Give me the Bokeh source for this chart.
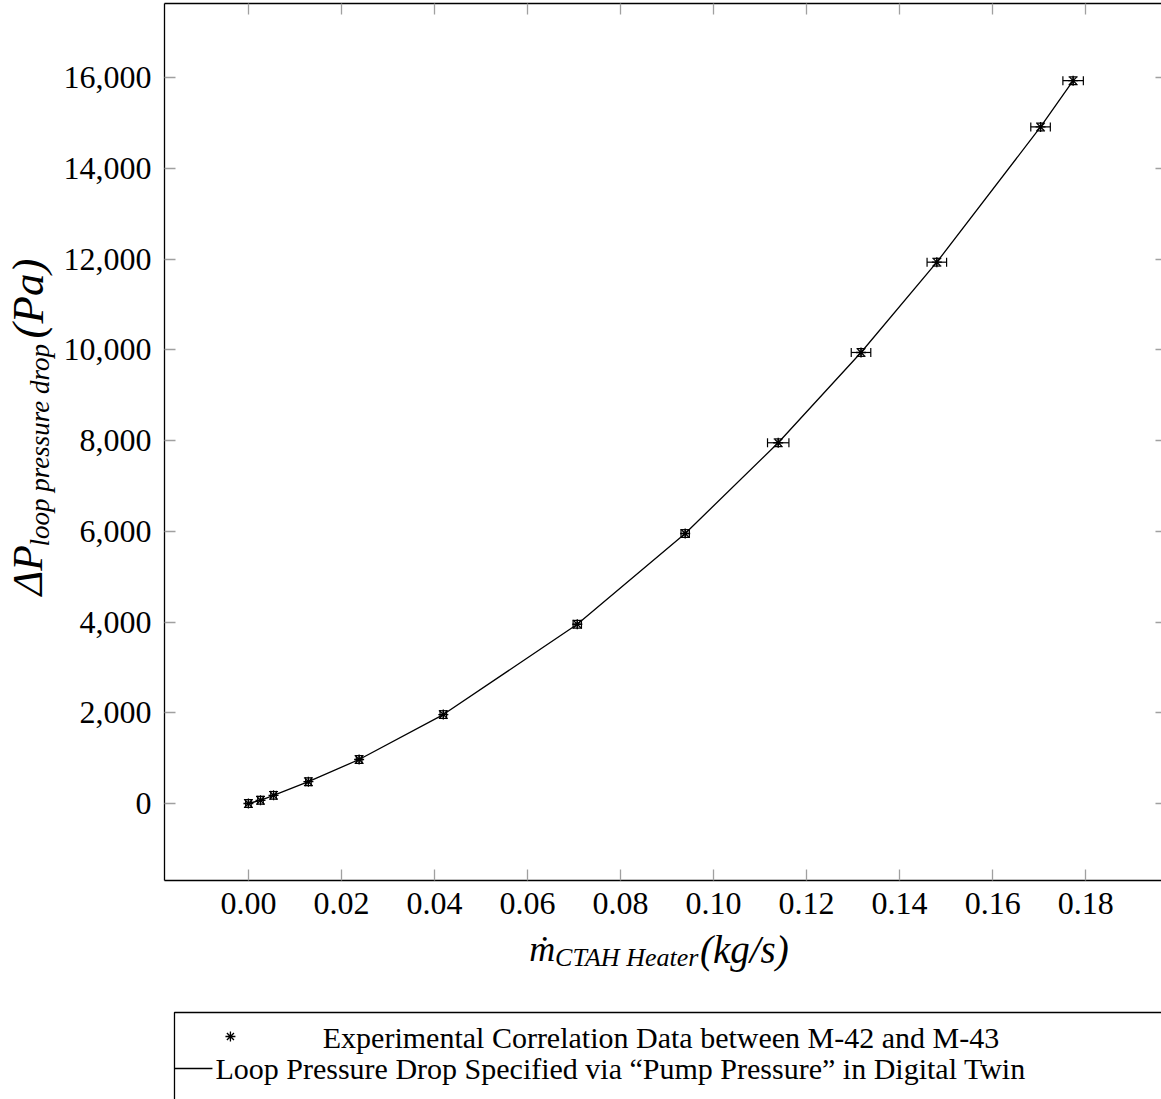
from bokeh.plotting import figure
from bokeh.models import (Range1d, FixedTicker, NumeralTickFormatter, LinearAxis,
                          Whisker, TeeHead, ColumnDataSource, CustomJSTickFormatter)
from bokeh.layouts import gridplot
from bokeh.core.properties import value
from bokeh.embed import file_html
from bokeh.resources import INLINE
import math

# ---------------- data ----------------
mdot = [0.0, 0.0026, 0.0054, 0.0129, 0.0238, 0.0419, 0.0707, 0.0939, 0.1139, 0.1317, 0.1480, 0.1703, 0.1773]
dp = [0, 70, 180, 480, 970, 1960, 3950, 5950, 7950, 9940, 11930, 14910, 15930]
mdot_err = [0.0006, 0.0006, 0.0006, 0.0006, 0.0006, 0.0007, 0.0009, 0.0009, 0.0023, 0.0021, 0.0021, 0.0021, 0.0022]
dp_err = [85, 85, 85, 85, 85, 85, 85, 85, 85, 85, 85, 85, 85]

twin_mdot = mdot
twin_dp = dp

x_ticks = [0.0, 0.02, 0.04, 0.06, 0.08, 0.10, 0.12, 0.14, 0.16, 0.18]
y_ticks = [0, 2000, 4000, 6000, 8000, 10000, 12000, 14000, 16000]

x_label_parts = ["\u1e41", "CTAH Heater", "(kg/s)"]
y_label_parts = ["\u0394P", "loop pressure drop", "(Pa)"]
legend_labels = ["Experimental Correlation Data between M-42 and M-43",
                 "Loop Pressure Drop Specified via \u201cPump Pressure\u201d in Digital Twin"]

FONT = "Liberation Serif"

# layout geometry (page pixels)
YLAB_W = 60
MAIN_W = 1161 - YLAB_W
MAIN_H = 928
BOT_BORDER = 48
BOTTOM_H = 1099 - MAIN_H

# ---------------- main figure ----------------
p = figure(width=MAIN_W, height=MAIN_H, output_backend="svg", toolbar_location=None,
           x_range=Range1d(-0.01804, 0.1963), y_range=Range1d(-1697, 17631),
           min_border_left=163 - YLAB_W, min_border_right=0, min_border_top=3,
           min_border_bottom=BOT_BORDER)
p.grid.visible = False
p.outline_line_color = None
p.background_fill_color = "white"
p.border_fill_color = "white"

def style_axis(ax, ticks, standoff, tick_len=11, line=True):
    ax.ticker = FixedTicker(ticks=ticks)
    ax.axis_line_color = "black" if line else None
    ax.axis_line_width = 1.3
    ax.major_tick_in = tick_len
    ax.major_tick_out = 0
    ax.major_tick_line_color = "#a0a0a0"
    ax.major_tick_line_width = 1.3
    ax.minor_tick_line_color = None
    ax.major_label_standoff = standoff
    ax.major_label_text_font = FONT
    ax.major_label_text_color = "black"
    ax.major_label_text_font_size = "32px"

style_axis(p.xaxis[0], x_ticks, 12)
p.xaxis[0].formatter = NumeralTickFormatter(format="0.00")
style_axis(p.yaxis[0], y_ticks, 13)
p.yaxis[0].formatter = NumeralTickFormatter(format="0,0")

top_ax = LinearAxis()
style_axis(top_ax, x_ticks, 0)
top_ax.formatter = CustomJSTickFormatter(code="return ''")
p.add_layout(top_ax, "above")
# the right border of the frame lies just beyond the window edge: only the tick stubs show
right_ax = LinearAxis()
style_axis(right_ax, y_ticks, 0, tick_len=6, line=False)
right_ax.formatter = CustomJSTickFormatter(code="return ''")
p.add_layout(right_ax, "right")

src = ColumnDataSource(dict(
    x=mdot, y=dp,
    xl=[a - b for a, b in zip(mdot, mdot_err)], xu=[a + b for a, b in zip(mdot, mdot_err)],
    yl=[a - b for a, b in zip(dp, dp_err)], yu=[a + b for a, b in zip(dp, dp_err)],
))

p.line(twin_mdot, twin_dp, line_color="black", line_width=1.3)

def head():
    return TeeHead(size=9, line_color="black", line_width=1.2)

wy = Whisker(source=src, base="x", lower="yl", upper="yu", dimension="height",
             line_color="black", line_width=1.2, upper_head=head(), lower_head=head(), level="glyph")
wx = Whisker(source=src, base="y", lower="xl", upper="xu", dimension="width",
             line_color="black", line_width=1.2, upper_head=head(), lower_head=head(), level="glyph")
p.add_layout(wy)
p.add_layout(wx)

p.scatter("x", "y", source=src, marker="asterisk", size=10, line_color="black", line_width=1.3)

# ---------------- y-axis label strip (left of the main plot) ----------------
ylab = figure(width=YLAB_W, height=MAIN_H, output_backend="svg", toolbar_location=None,
              x_axis_location=None, y_axis_location=None,
              x_range=Range1d(0, YLAB_W), y_range=Range1d(880, 3),
              min_border_left=0, min_border_right=0, min_border_top=3,
              min_border_bottom=BOT_BORDER)
ylab.grid.visible = False
ylab.outline_line_color = None
ylab.background_fill_color = "white"
ylab.border_fill_color = "white"

ylab.text(x=[27, 39, 27], y=[595, 546, 338], text=y_label_parts,
          text_font=value(FONT), text_font_style="italic",
          text_font_size=["42px", "27px", "45px"],
          text_align="left", text_baseline="middle", angle=math.pi / 2, text_color="black")

# ---------------- bottom strip: x-axis label and legend ----------------
bot = figure(width=MAIN_W, height=BOTTOM_H, output_backend="svg", toolbar_location=None,
             x_axis_location=None, y_axis_location=None,
             x_range=Range1d(163, 1161), y_range=Range1d(1099, MAIN_H),
             min_border_left=163 - YLAB_W, min_border_right=0, min_border_top=0,
             min_border_bottom=0)
bot.grid.visible = False
bot.outline_line_color = None
bot.background_fill_color = "white"
bot.border_fill_color = "white"

bot.text(x=[528, 554, 699], y=[948, 957, 949], text=x_label_parts,
         text_font=value(FONT), text_font_style="italic",
         text_font_size=["36px", "26px", "39px"],
         text_align="left", text_baseline="middle", text_color="black")

bot.quad(left=[173], right=[1400], top=[1012], bottom=[1300], fill_color=None,
         line_color="black", line_width=1.3)
bot.scatter([229], [1036], marker="asterisk", size=10, line_color="black", line_width=1.3)
bot.segment(x0=[173], y0=[1068], x1=[211], y1=[1068], line_color="black", line_width=1.3)
bot.text(x=[660], y=[1037], text=[legend_labels[0]], text_font=value(FONT), text_font_size="30px",
         text_align="center", text_baseline="middle", text_color="black")
bot.text(x=[214], y=[1068], text=[legend_labels[1]], text_font=value(FONT), text_font_size="30px",
         text_align="left", text_baseline="middle", text_color="black")

layout = gridplot(children=[[ylab, p], [None, bot]], toolbar_location=None)
open("out.html", "w").write(file_html(layout, INLINE))
